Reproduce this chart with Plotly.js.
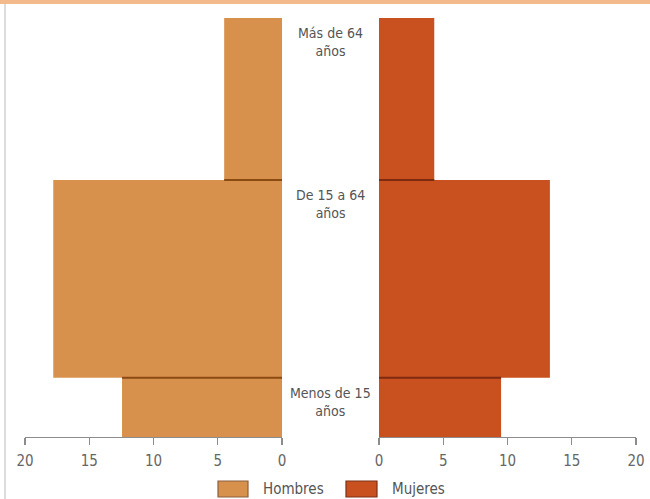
<!DOCTYPE html>
<html>
<head>
<meta charset="utf-8">
<script src="https://cdn.plot.ly/plotly-3.0.1.min.js"></script>
<style>html,body{margin:0;padding:0;background:#fff;}#chart{width:650px;height:499px;}</style>
</head>
<body>
<div id="chart"></div>
<script>
// Age groups (bottom to top)
const groups = ["Menos de 15<br>años", "De 15 a 64<br>años", "Más de 64<br>años"];
const ageStart = [0, 15, 65];
const ageEnd = [15, 65, 106];
// Percent of population
const seriesNames = ["Hombres", "Mujeres"];
const hombres = [12.45, 17.8, 4.5];
const mujeres = [9.5, 13.3, 4.3];
const tickVals = [0, 5, 10, 15, 20];

const mid = ageStart.map((s, i) => (s + ageEnd[i]) / 2);
const span = ageStart.map((s, i) => ageEnd[i] - s);

const colH = "#D8914C", colM = "#C9501F";
const lineH = "#8A4A12", lineM = "#7E2A10";

const traces = [
  {type: "bar", orientation: "h", name: seriesNames[0], x: hombres, y: mid, width: span,
   xaxis: "x", yaxis: "y", marker: {color: colH, line: {width: 0}}, hoverinfo: "skip"},
  {type: "bar", orientation: "h", name: seriesNames[1], x: mujeres, y: mid, width: span,
   xaxis: "x2", yaxis: "y", marker: {color: colM, line: {width: 0}}, hoverinfo: "skip"}
];

// boundary lines between adjacent age groups (along the narrower bar)
for (let i = 1; i < ageStart.length; i++) {
  traces.push({type: "scatter", mode: "lines", showlegend: false, hoverinfo: "skip",
    x: [0, Math.min(hombres[i - 1], hombres[i])], y: [ageStart[i], ageStart[i]],
    xaxis: "x", yaxis: "y", line: {color: lineH, width: 2}});
  traces.push({type: "scatter", mode: "lines", showlegend: false, hoverinfo: "skip",
    x: [0, Math.min(mujeres[i - 1], mujeres[i])], y: [ageStart[i], ageStart[i]],
    xaxis: "x2", yaxis: "y", line: {color: lineM, width: 2}});
}

const fontFam = "'DejaVu Sans Condensed', 'Liberation Sans Narrow', Arial, sans-serif";
const axisCommon = {
  tickvals: tickVals, ticktext: tickVals.map(String), showgrid: false, zeroline: false,
  showline: true, linecolor: "#8c8c8c", linewidth: 1.2, ticks: "outside", ticklen: 7,
  tickcolor: "#8c8c8c", tickwidth: 1.2, tickfont: {family: fontFam, size: 15, color: "#666"},
  ticklabelstandoff: 3, anchor: "y", fixedrange: true
};

// custom legend (bigger swatches, as in the original)
const W = 650, H = 499;
const legendSwatch = [{x0: 218, x1: 248}, {x0: 346, x1: 377}];
const legendColors = [colH, colM];
const legendBorders = ["#8a6040", "#7a3018"];
const legendShapes = seriesNames.map((n, i) => ({
  type: "rect", xref: "paper", yref: "paper",
  x0: legendSwatch[i].x0 / W, x1: legendSwatch[i].x1 / W,
  y0: (H - 497) / H, y1: (H - 481) / H,
  fillcolor: legendColors[i], line: {color: legendBorders[i], width: 1.2}
}));
const legendTexts = seriesNames.map((n, i) => ({
  xref: "paper", yref: "paper", x: (legendSwatch[i].x1 + 13) / W, xanchor: "left",
  y: (H - 489) / H, yanchor: "middle", text: n, showarrow: false,
  font: {family: fontFam, size: 15, color: "#555"}
}));

const layout = {
  width: W, height: H,
  margin: {l: 0, r: 0, t: 0, b: 0},
  paper_bgcolor: "#ffffff", plot_bgcolor: "rgba(0,0,0,0)",
  showlegend: false,
  xaxis: Object.assign({}, axisCommon, {domain: [25 / W, 282 / W], range: [20, 0]}),
  xaxis2: Object.assign({}, axisCommon, {domain: [379 / W, 636 / W], range: [0, 20]}),
  yaxis: {domain: [(H - 437) / H, (H - 18) / H], range: [0, 106], visible: false, fixedrange: true},
  annotations: groups.map((g, i) => ({
    xref: "paper", yref: "y", x: 330.5 / W, y: ageEnd[i], yanchor: "top", yshift: -5,
    text: g, showarrow: false, align: "center",
    font: {family: fontFam, size: 14, color: "#555"}
  })).concat(legendTexts),
  shapes: [
    {type: "rect", xref: "paper", yref: "paper", x0: 0, x1: 1, y0: 1 - 4 / H, y1: 1,
     fillcolor: "#F2B98A", line: {width: 0}, layer: "below"},
    {type: "line", xref: "paper", yref: "paper", x0: 5 / W, x1: 5 / W, y0: 0, y1: 1 - 4 / H,
     line: {color: "#dcdcdc", width: 2}, layer: "below"}
  ].concat(legendShapes)
};

Plotly.newPlot("chart", traces, layout, {displayModeBar: false, staticPlot: true});
</script>
</body>
</html>
